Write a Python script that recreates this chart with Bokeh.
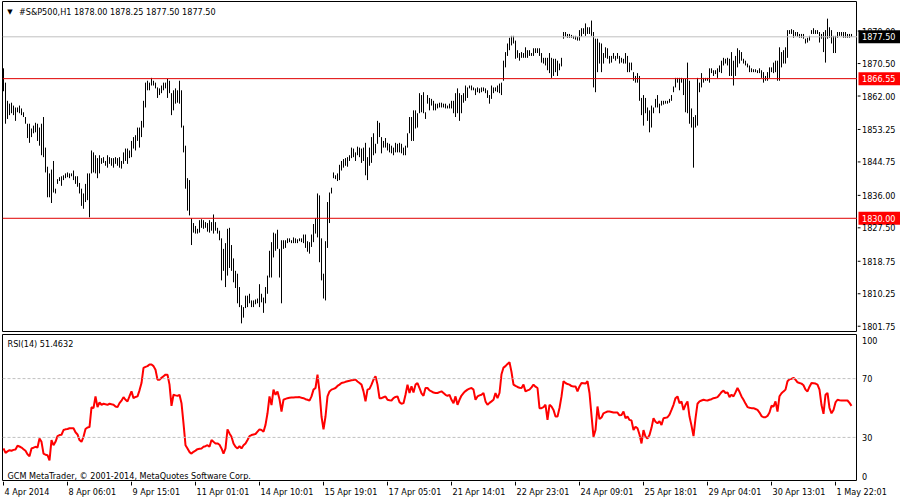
from bokeh.plotting import figure
from bokeh.layouts import column, row
from bokeh.models import Range1d, Span, Label, ColumnDataSource
from bokeh.embed import file_html
from bokeh.resources import INLINE

# ---------------- data ----------------
symbol = "#S&P500,H1"
last_open, last_high, last_low, last_close = 1878.00, 1878.25, 1877.50, 1877.50
level_lines = [1866.55, 1830.00]
price_ticks = [1879.00, 1870.50, 1862.00, 1853.25, 1844.75, 1836.00,
               1827.50, 1818.75, 1810.25, 1801.75]
rsi_period = 14
rsi_levels = [70, 30]
rsi_axis_labels = ["100", "70", "30", "0"]
date_labels = ["4 Apr 2014", "8 Apr 06:01", "9 Apr 15:01", "11 Apr 01:01",
               "14 Apr 10:01", "15 Apr 19:01", "17 Apr 05:01", "21 Apr 14:01",
               "22 Apr 23:01", "24 Apr 09:01", "25 Apr 18:01", "29 Apr 04:01",
               "30 Apr 13:01", "1 May 22:01"]
bars_per_label = 32

high = [
 1869.25, 1865.5, 1860.75, 1860.0, 1860.25, 1859.5, 1859.0, 1859.0, 1859.5, 1858.75,
 1857.75, 1856.5, 1854.75, 1854.75, 1853.5, 1854.25, 1855.0, 1854.75, 1853.75, 1854.75,
 1856.5, 1848.5, 1843.5, 1841.75, 1842.75, 1845.0, 1837.75, 1840.25, 1840.75, 1841.0,
 1841.25, 1841.75, 1842.0, 1841.75, 1841.75, 1842.5, 1841.0, 1841.0, 1839.25, 1837.75,
 1836.5, 1839.0, 1841.75, 1841.75, 1847.75, 1847.25, 1846.5, 1845.75, 1846.5, 1845.75,
 1846.0, 1845.0, 1846.5, 1846.0, 1845.75, 1845.75, 1846.0, 1845.75, 1846.0, 1845.0,
 1847.25, 1848.25, 1848.25, 1847.75, 1850.25, 1851.25, 1851.75, 1853.75, 1853.75, 1855.5,
 1860.75, 1865.5, 1866.0, 1865.5, 1866.75, 1866.0, 1865.5, 1864.25, 1864.0, 1864.75,
 1865.5, 1865.5, 1866.5, 1866.0, 1862.75, 1863.5, 1864.0, 1863.5, 1866.0, 1863.5,
 1854.25, 1849.0, 1840.5, 1840.0, 1830.0, 1828.75, 1828.0, 1827.25, 1829.5, 1829.75,
 1829.5, 1829.0, 1828.75, 1829.5, 1829.0, 1831.0, 1829.0, 1827.5, 1826.75, 1824.75,
 1822.0, 1823.5, 1827.25, 1827.5, 1823.0, 1819.5, 1816.25, 1815.5, 1812.0, 1807.25,
 1806.75, 1809.75, 1809.75, 1810.25, 1808.5, 1808.5, 1808.75, 1809.0, 1812.75, 1810.25,
 1809.25, 1812.0, 1815.0, 1821.5, 1823.75, 1826.25, 1826.0, 1827.0, 1822.0, 1824.25,
 1824.25, 1824.25, 1824.75, 1824.75, 1824.25, 1825.0, 1824.75, 1824.5, 1824.75, 1824.75,
 1825.75, 1825.75, 1824.0, 1823.75, 1825.75, 1828.5, 1830.0, 1836.5, 1836.0, 1824.75,
 1815.5, 1824.0, 1834.25, 1836.75, 1838.0, 1842.0, 1841.25, 1841.75, 1844.0, 1845.0,
 1845.5, 1845.75, 1846.0, 1846.5, 1848.5, 1848.25, 1847.25, 1848.75, 1848.5, 1848.25,
 1848.5, 1849.75, 1846.0, 1848.5, 1851.25, 1852.25, 1849.5, 1855.5, 1855.0, 1851.25,
 1850.25, 1851.0, 1849.75, 1849.5, 1849.0, 1848.5, 1849.75, 1849.5, 1849.75, 1849.5,
 1848.5, 1849.0, 1852.25, 1856.5, 1856.5, 1858.25, 1858.25, 1857.5, 1862.75, 1862.25,
 1863.0, 1857.75, 1862.25, 1861.5, 1861.25, 1860.75, 1860.0, 1860.0, 1860.25, 1860.25,
 1860.0, 1860.0, 1859.5, 1860.0, 1860.75, 1860.75, 1862.75, 1864.0, 1862.75, 1862.25,
 1862.75, 1864.75, 1864.25, 1864.75, 1864.75, 1864.25, 1864.0, 1864.25, 1864.0, 1864.25,
 1864.25, 1864.0, 1863.5, 1862.25, 1864.75, 1864.25, 1864.25, 1864.75, 1865.25, 1865.5,
 1871.25, 1873.5, 1875.75, 1877.25, 1877.75, 1877.75, 1876.5, 1874.0, 1873.25, 1873.5,
 1873.25, 1874.75, 1874.0, 1874.0, 1873.25, 1874.5, 1874.5, 1874.5, 1874.5, 1873.25,
 1872.0, 1872.0, 1872.0, 1873.25, 1872.0, 1871.75, 1871.75, 1871.25, 1870.5, 1872.0,
 1878.75, 1878.75, 1878.25, 1878.25, 1878.0, 1877.75, 1877.75, 1877.5, 1879.25, 1879.75,
 1879.75, 1881.0, 1880.0, 1880.0, 1881.75, 1878.75, 1877.0, 1877.0, 1876.0, 1875.75,
 1873.25, 1874.75, 1874.5, 1872.5, 1872.5, 1873.25, 1872.5, 1873.25, 1872.5, 1872.0,
 1871.75, 1873.25, 1872.5, 1870.75, 1870.75, 1868.25, 1867.25, 1868.0, 1867.25, 1861.5,
 1862.25, 1861.5, 1859.0, 1858.25, 1859.5, 1859.0, 1861.25, 1862.25, 1860.0, 1860.75,
 1860.75, 1860.75, 1860.75, 1861.25, 1862.25, 1864.5, 1866.75, 1866.75, 1866.75, 1866.75,
 1866.5, 1866.5, 1870.75, 1866.0, 1858.75, 1856.5, 1857.0, 1866.75, 1865.5, 1868.0,
 1866.75, 1866.75, 1866.75, 1869.25, 1869.25, 1868.75, 1868.75, 1869.25, 1870.0, 1871.25,
 1872.0, 1871.75, 1872.0, 1871.75, 1873.5, 1871.25, 1872.5, 1874.5, 1874.0, 1873.5,
 1871.75, 1871.25, 1870.5, 1870.0, 1869.25, 1869.0, 1869.0, 1868.75, 1869.25, 1868.75,
 1868.25, 1867.25, 1868.25, 1869.5, 1869.5, 1870.75, 1871.25, 1871.25, 1874.75, 1873.5,
 1874.0, 1874.75, 1879.25, 1879.25, 1879.5, 1879.25, 1878.75, 1878.75, 1878.25, 1878.25,
 1878.25, 1877.0, 1877.25, 1877.75, 1879.25, 1879.75, 1879.25, 1879.25, 1878.75, 1878.25,
 1878.75, 1879.25, 1882.25, 1880.0, 1879.25, 1877.75, 1877.75, 1878.75, 1878.75, 1878.75,
 1878.75, 1878.75, 1878.25, 1878.25, 1878.25]

low = [
 1863.25, 1854.75, 1856.0, 1857.0, 1857.5, 1857.0, 1855.5, 1857.75, 1857.5, 1857.0,
 1856.5, 1854.75, 1851.0, 1849.75, 1851.25, 1852.25, 1852.5, 1850.25, 1849.0, 1846.5,
 1846.0, 1842.0, 1835.5, 1835.5, 1834.0, 1836.75, 1836.5, 1839.0, 1839.75, 1838.5,
 1840.0, 1840.5, 1840.75, 1840.5, 1841.0, 1840.0, 1839.0, 1838.25, 1836.5, 1833.25,
 1832.5, 1834.25, 1834.75, 1830.25, 1841.75, 1842.0, 1841.75, 1840.5, 1841.75, 1844.25,
 1844.5, 1843.75, 1843.25, 1844.25, 1843.75, 1843.25, 1844.25, 1843.75, 1843.25, 1843.0,
 1844.25, 1845.0, 1844.25, 1845.75, 1846.0, 1848.25, 1847.75, 1850.25, 1848.5, 1851.25,
 1853.75, 1859.0, 1863.5, 1863.5, 1864.75, 1864.75, 1864.0, 1861.5, 1862.25, 1862.75,
 1863.5, 1864.0, 1861.5, 1862.75, 1857.0, 1858.25, 1860.0, 1860.25, 1860.0, 1853.75,
 1847.25, 1837.75, 1832.0, 1830.75, 1823.0, 1826.25, 1826.0, 1826.0, 1826.25, 1827.5,
 1827.25, 1827.5, 1826.5, 1826.25, 1826.75, 1826.0, 1826.75, 1826.0, 1824.25, 1813.75,
 1816.25, 1812.0, 1815.0, 1817.0, 1816.25, 1813.25, 1811.75, 1807.75, 1806.75, 1802.5,
 1804.0, 1806.5, 1806.75, 1807.75, 1806.75, 1806.75, 1807.5, 1807.75, 1806.75, 1808.0,
 1805.25, 1807.75, 1810.25, 1814.5, 1814.5, 1819.75, 1821.5, 1822.0, 1814.5, 1807.75,
 1822.0, 1822.25, 1823.5, 1823.75, 1823.5, 1823.5, 1823.5, 1823.5, 1824.0, 1823.75,
 1823.5, 1822.25, 1821.25, 1820.75, 1822.5, 1823.75, 1826.0, 1825.0, 1818.5, 1813.75,
 1809.0, 1808.5, 1822.25, 1828.75, 1836.5, 1840.5, 1840.25, 1839.75, 1840.0, 1842.5,
 1843.25, 1843.75, 1843.5, 1845.0, 1845.75, 1846.0, 1845.0, 1846.5, 1846.0, 1844.5,
 1845.0, 1841.25, 1840.0, 1843.75, 1844.5, 1846.5, 1847.0, 1849.5, 1851.25, 1847.0,
 1848.5, 1848.5, 1847.75, 1847.25, 1847.0, 1846.5, 1847.25, 1847.25, 1847.25, 1847.0,
 1846.5, 1846.5, 1848.5, 1852.25, 1850.25, 1850.25, 1853.5, 1853.75, 1857.5, 1857.75,
 1857.5, 1856.0, 1860.0, 1858.25, 1859.5, 1858.25, 1858.25, 1858.75, 1859.0, 1859.0,
 1859.0, 1858.75, 1858.75, 1858.75, 1858.75, 1857.5, 1856.5, 1857.5, 1855.5, 1857.5,
 1860.25, 1860.75, 1861.5, 1864.0, 1863.5, 1863.5, 1862.25, 1863.0, 1862.75, 1863.0,
 1863.25, 1862.75, 1861.5, 1860.0, 1861.25, 1862.75, 1863.25, 1863.0, 1862.75, 1862.25,
 1866.0, 1869.5, 1872.5, 1874.0, 1875.25, 1875.75, 1871.75, 1872.0, 1871.25, 1872.0,
 1872.0, 1872.0, 1872.0, 1872.5, 1872.5, 1872.5, 1873.25, 1873.25, 1872.5, 1870.75,
 1870.5, 1870.0, 1868.75, 1868.0, 1866.75, 1867.25, 1868.25, 1867.25, 1868.75, 1869.75,
 1877.0, 1877.5, 1877.25, 1877.25, 1877.25, 1877.0, 1876.75, 1876.5, 1876.5, 1877.5,
 1878.25, 1877.75, 1878.25, 1878.25, 1877.75, 1864.25, 1863.0, 1868.25, 1870.5, 1868.25,
 1870.5, 1872.0, 1871.75, 1870.5, 1870.75, 1871.75, 1871.25, 1871.75, 1870.5, 1870.75,
 1870.5, 1870.5, 1868.25, 1868.25, 1868.75, 1866.0, 1865.5, 1865.5, 1860.75, 1857.0,
 1854.25, 1857.5, 1855.5, 1852.5, 1853.75, 1857.5, 1859.0, 1859.0, 1857.5, 1859.5,
 1859.75, 1860.0, 1860.0, 1860.25, 1860.75, 1863.0, 1864.25, 1865.5, 1863.5, 1865.5,
 1862.25, 1857.75, 1857.5, 1854.75, 1853.75, 1843.25, 1853.75, 1854.25, 1863.0, 1864.25,
 1865.5, 1866.0, 1866.0, 1865.5, 1868.0, 1867.25, 1867.75, 1866.75, 1868.25, 1868.0,
 1870.0, 1870.5, 1870.0, 1867.25, 1867.25, 1864.75, 1867.25, 1869.5, 1870.5, 1871.25,
 1870.5, 1870.0, 1869.5, 1868.25, 1868.25, 1868.25, 1868.25, 1868.0, 1868.0, 1866.75,
 1865.5, 1866.0, 1866.0, 1866.75, 1868.25, 1868.0, 1868.25, 1866.0, 1866.0, 1869.5,
 1870.5, 1870.5, 1872.0, 1878.25, 1878.25, 1877.25, 1877.75, 1877.5, 1877.25, 1877.25,
 1877.0, 1875.75, 1876.0, 1876.5, 1878.25, 1878.25, 1878.25, 1878.25, 1876.0, 1877.0,
 1873.5, 1870.75, 1877.0, 1877.25, 1875.75, 1873.25, 1873.25, 1877.25, 1877.75, 1877.75,
 1877.25, 1877.25, 1877.25, 1877.25, 1877.5]

rsi = [
 22.5, 19.5, 20.5, 21.3, 20.9, 21.5, 21.8, 24.3, 23.8, 23.1,
 22.0, 20.9, 18.5, 17.2, 22.5, 23.0, 23.6, 23.1, 29.3, 27.0,
 19.0, 18.2, 17.9, 14.4, 28.2, 24.7, 27.0, 30.9, 31.6, 31.8,
 35.0, 35.5, 35.7, 36.2, 36.2, 36.2, 33.5, 32.0, 28.2, 27.0,
 30.4, 35.7, 36.8, 37.0, 50.5, 49.9, 57.9, 50.6, 53.8, 52.2,
 52.9, 52.5, 52.2, 52.9, 52.5, 52.2, 51.0, 50.6, 53.3, 55.0,
 57.4, 55.6, 54.5, 58.0, 61.3, 56.7, 57.5, 57.9, 62.0, 67.0,
 77.3, 78.0, 78.5, 79.6, 79.6, 78.5, 76.0, 69.3, 69.3, 70.5,
 71.6, 72.7, 72.7, 65.9, 51.5, 59.0, 58.6, 58.3, 59.0, 53.3,
 39.6, 24.7, 22.5, 20.0, 19.0, 20.2, 21.0, 22.0, 22.3, 22.5,
 23.6, 24.0, 24.7, 23.6, 28.2, 27.0, 25.9, 25.9, 25.0, 22.5,
 19.0, 22.5, 35.5, 32.7, 30.4, 25.9, 23.6, 22.5, 24.0, 22.5,
 24.7, 25.9, 28.2, 30.9, 31.6, 32.0, 32.3, 33.9, 35.5, 35.0,
 33.9, 38.5, 46.4, 57.9, 52.0, 62.5, 59.0, 61.3, 56.0, 47.6,
 55.6, 56.2, 56.7, 57.0, 57.2, 57.2, 57.3, 57.3, 57.4, 57.0,
 56.7, 56.0, 55.6, 55.0, 57.9, 62.5, 63.6, 72.7, 61.3, 44.2,
 35.5, 44.2, 57.9, 61.3, 62.5, 63.0, 63.6, 65.0, 65.9, 67.0,
 67.3, 67.8, 68.2, 68.5, 68.9, 69.0, 69.3, 68.0, 67.0, 65.9,
 61.3, 54.5, 62.5, 63.0, 65.9, 69.3, 71.6, 65.9, 56.7, 56.7,
 57.3, 57.9, 55.6, 55.3, 55.1, 56.7, 57.5, 57.9, 54.0, 52.9,
 53.3, 59.0, 65.9, 60.2, 64.7, 60.5, 65.9, 67.0, 63.6, 60.0,
 58.3, 63.6, 63.6, 62.0, 61.3, 60.5, 60.2, 60.2, 60.8, 61.3,
 60.2, 59.0, 58.3, 59.0, 55.6, 53.3, 57.9, 52.2, 55.6, 58.5,
 60.2, 61.5, 62.5, 63.2, 63.6, 62.5, 55.6, 57.9, 58.6, 59.0,
 60.2, 54.5, 52.2, 53.5, 54.5, 55.6, 60.2, 56.7, 60.2, 73.0,
 77.5, 78.5, 80.0, 81.2, 74.5, 65.9, 65.0, 64.3, 63.8, 63.6,
 65.9, 61.3, 62.0, 62.5, 64.0, 65.9, 64.5, 63.6, 49.9, 49.9,
 50.6, 52.2, 41.9, 52.2, 51.0, 48.7, 44.2, 44.2, 50.0, 57.9,
 68.2, 67.0, 66.3, 65.9, 64.9, 64.7, 64.7, 61.3, 64.7, 67.0,
 66.8, 66.6, 68.2, 60.2, 45.0, 30.4, 35.0, 51.0, 42.5, 43.5,
 46.4, 47.0, 47.6, 47.6, 47.3, 46.9, 46.9, 46.9, 45.0, 45.3,
 47.6, 43.0, 44.2, 41.9, 41.5, 35.0, 37.3, 36.2, 32.0, 25.9,
 35.0, 30.4, 29.3, 31.6, 36.5, 43.0, 40.7, 39.6, 41.0, 38.5,
 43.0, 43.3, 43.7, 45.5, 48.7, 52.2, 56.7, 57.9, 53.3, 54.5,
 48.7, 52.2, 54.5, 44.2, 38.0, 30.9, 43.0, 52.9, 54.5, 55.1,
 55.6, 55.3, 55.1, 55.6, 56.0, 56.7, 57.0, 57.4, 59.0, 60.8,
 61.8, 60.2, 60.6, 57.5, 59.0, 57.9, 60.6, 63.6, 61.0, 57.9,
 55.6, 53.0, 50.6, 50.2, 49.9, 49.9, 49.3, 48.7, 46.9, 44.5,
 43.7, 43.7, 44.6, 46.9, 51.5, 51.0, 54.5, 47.6, 58.0, 60.0,
 61.3, 62.5, 68.2, 69.5, 69.8, 70.5, 69.3, 67.5, 67.0, 66.6,
 65.5, 62.5, 61.3, 64.5, 67.0, 66.8, 66.6, 65.9, 62.5, 52.0,
 46.0, 59.0, 60.2, 50.0, 46.4, 48.7, 53.8, 55.6, 55.3, 55.1,
 55.1, 55.1, 55.1, 53.5, 51.4632]

# ---------------- layout / style ----------------
FONT = "DejaVu Sans Condensed"
FS = "9px"
FRAME_W = 855          # chart area width (2 px per bar)
AXIS_W = 43            # right price-scale column
PRICE_H = 330
RSI_H = 147
DATE_H = 18
PX_PER_BAR = 2.0

n = min(len(high), len(low), len(rsi))
bars = ColumnDataSource(dict(x=list(range(n)), high=high[:n], low=low[:n], rsi=rsi[:n]))

x0 = -0.5
x_range = Range1d(x0, x0 + FRAME_W / PX_PER_BAR)
price_range = Range1d(1800.37, 1886.74)
rsi_range = Range1d(0, 100)


def fig(w, h, xr, yr, left=0, top=0, bottom=0, outline=True):
    p = figure(frame_width=w, frame_height=h, x_range=xr, y_range=yr,
               x_axis_location=None, y_axis_location=None,
               toolbar_location=None, output_backend="svg",
               min_border_left=left, min_border_right=0,
               min_border_top=top, min_border_bottom=bottom)
    p.grid.visible = False
    p.background_fill_color = "white"
    p.border_fill_color = "white"
    p.outline_line_color = "black" if outline else None
    p.outline_line_width = 1
    p.outline_line_alpha = 1
    return p


def txt(p, x, y, s, color="black", align="left", xo=0, yo=0, font=FONT, size=FS):
    p.add_layout(Label(x=x, y=y, x_offset=xo, y_offset=yo, text=s, text_font=font,
                       text_font_size=size, text_color=color, text_align=align,
                       text_baseline="middle"))


# ---- price chart ----
p1 = fig(FRAME_W, PRICE_H, x_range, price_range, left=2, top=1, bottom=3)
p1.segment(x0="x", y0="low", x1="x", y1="high", source=bars,
           line_color="black", line_width=1)
p1.add_layout(Span(location=last_close, dimension="width",
                   line_color="#c0c0c0", line_width=1))
for lv in level_lines:
    p1.add_layout(Span(location=lv, dimension="width", line_color="#e00000",
                       line_width=1))
txt(p1, x_range.start, price_range.end, "\u25bc", align="center", xo=7.5, yo=-10,
    font="DejaVu Sans", size="7px")
header = f"{symbol}  {last_open:.2f} {last_high:.2f} {last_low:.2f} {last_close:.2f}"
txt(p1, x_range.start, price_range.end, header, xo=16.5, yo=-10)

# ---- price scale column ----
ax1 = fig(AXIS_W, PRICE_H, Range1d(0, AXIS_W), price_range, top=1, bottom=3,
          outline=False)
ax1.segment(x0=[0] * len(price_ticks), y0=price_ticks, x1=[3] * len(price_ticks),
            y1=price_ticks, line_color="black", line_width=1)
for t in price_ticks:
    txt(ax1, 0, t, f"{t:.2f}", xo=4.5)
ax1.rect(x=[AXIS_W / 2 + 0.5], y=[last_close], width=AXIS_W - 1, height=13,
         width_units="screen", height_units="screen", fill_color="black",
         line_color=None)
txt(ax1, 0, last_close, f"{last_close:.2f}", color="white", xo=4.5)
for lv in level_lines:
    ax1.rect(x=[AXIS_W / 2 + 0.5], y=[lv], width=AXIS_W - 1, height=13,
             width_units="screen", height_units="screen", fill_color="#ff0000",
             line_color=None)
    txt(ax1, 0, lv, f"{lv:.2f}", color="white", xo=4.5)

# ---- RSI chart ----
p2 = fig(FRAME_W, RSI_H, x_range, rsi_range, left=2)
for lv in rsi_levels:
    p2.add_layout(Span(location=lv, dimension="width", line_color="#c0c0c0",
                       line_width=1, line_dash="3 2"))
p2.line(x="x", y="rsi", source=bars, line_color="#ff0000", line_width=2)
txt(p2, x_range.start, rsi_range.end, f"RSI({rsi_period}) {rsi[-1]:.4f}", xo=5, yo=-9)
txt(p2, x_range.start, rsi_range.start,
    "GCM MetaTrader, \u00a9 2001-2014, MetaQuotes Software Corp.", xo=5, yo=6)

# ---- RSI scale column (100 and 0 sit just inside the edges, as in MT4) ----
ax2 = fig(AXIS_W, RSI_H, Range1d(0, AXIS_W), rsi_range, outline=False)
txt(ax2, 0, rsi_range.end, rsi_axis_labels[0], xo=4.5, yo=-6)
txt(ax2, 0, rsi_levels[0], rsi_axis_labels[1], xo=4.5)
txt(ax2, 0, rsi_levels[1], rsi_axis_labels[2], xo=4.5)
txt(ax2, 0, rsi_range.start, rsi_axis_labels[3], xo=4.5, yo=5)

# ---- time scale ----
tick_pos = [k * bars_per_label for k in range(len(date_labels))]
p3 = fig(FRAME_W + AXIS_W - 2, DATE_H,
         Range1d(x0, x0 + (FRAME_W + AXIS_W - 2) / PX_PER_BAR), Range1d(DATE_H, 0),
         left=2, outline=False)
p3.segment(x0=tick_pos, y0=[0] * len(tick_pos), x1=tick_pos, y1=[4] * len(tick_pos),
           line_color="black", line_width=1)
for pos, lab in zip(tick_pos, date_labels):
    txt(p3, pos, 10.5, lab, xo=1)

layout = column(row(p1, ax1), row(p2, ax2), p3)
open("out.html", "w").write(file_html(layout, INLINE))
